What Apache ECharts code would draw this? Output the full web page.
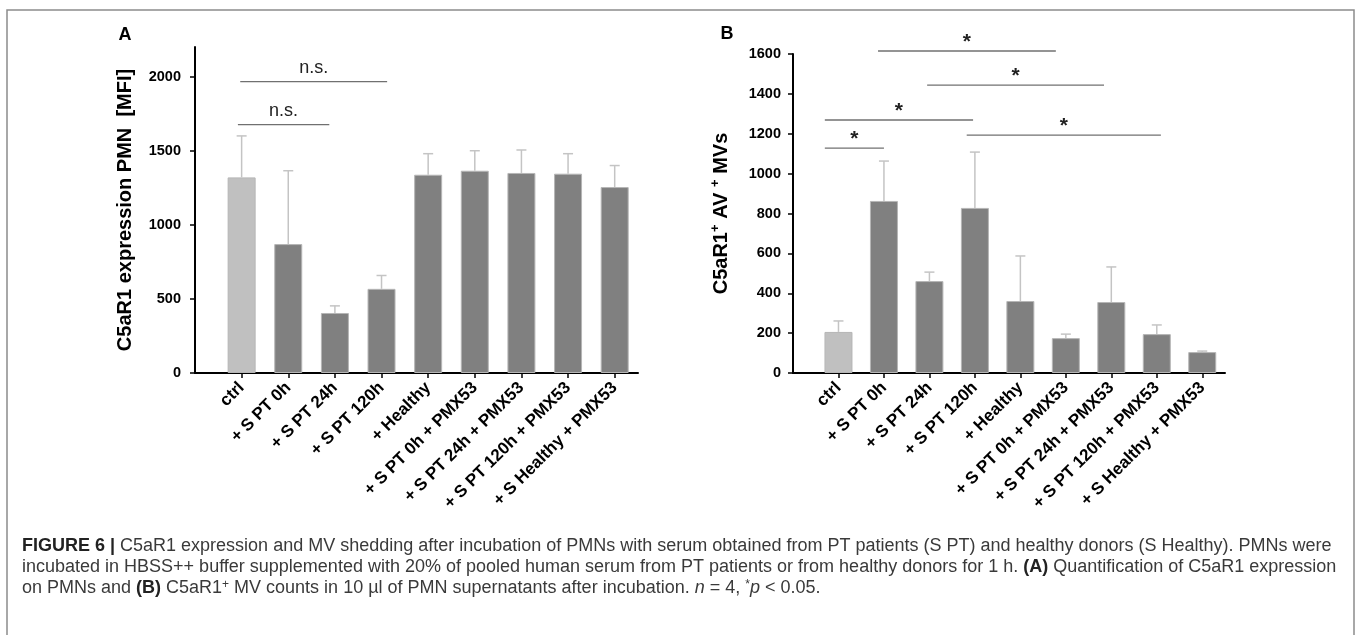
<!DOCTYPE html>
<html>
<head>
<meta charset="utf-8">
<title>Figure 6</title>
<script src="https://cdn.jsdelivr.net/npm/echarts@6/dist/echarts.min.js"></script>
<style>
  html, body { margin: 0; padding: 0; background: #fff; }
  #chart { width: 1357px; height: 635px; }
</style>
</head>
<body>
<div id="chart"></div>
<script>
// --- data ---
const categories = ['ctrl', '+ S PT 0h', '+ S PT 24h', '+ S PT 120h', '+ Healthy',
  '+ S PT 0h + PMX53', '+ S PT 24h + PMX53', '+ S PT 120h + PMX53', '+ S Healthy + PMX53'];

// panel A: C5aR1 expression (MFI), mean and SD
const meanA = [1320, 870, 405, 568, 1338, 1365, 1350, 1345, 1255];
const sdA = [280, 495, 48, 90, 142, 135, 155, 135, 145];

// panel B: C5aR1+ AV+ MVs, mean and SD
const meanB = [206, 863, 461, 828, 361, 175, 356, 195, 105];
const sdB = [55, 200, 45, 280, 226, 20, 176, 46, 5];

// significance brackets: [from x, to x, y value, text]  (x: ctrl = 1)
const sigA = [[0.92, 2.88, 1676, 'n.s.'], [0.97, 4.12, 1966, 'n.s.']];
const sigB = [[0.70, 2.00, 1128, '*'], [0.70, 3.96, 1269, '*'], [3.82, 8.09, 1193, '*'],
  [1.87, 5.78, 1615, '*'], [2.95, 6.84, 1444, '*']];

const ticksA = [0, 500, 1000, 1500, 2000];
const ticksB = [0, 200, 400, 600, 800, 1000, 1200, 1400, 1600];

const xPos = categories.map((c, i) => i + 1);

const chart = echarts.init(document.getElementById('chart'));

const BOLD = 'Liberation Sans';
const LIGHT = '#c0c0c0', DARK = '#808080';

function xAxisCfg(gridIndex) {
  return {
    type: 'value', gridIndex, min: 0, max: 9.5, interval: 1,
    axisLine: { show: true, lineStyle: { color: '#000', width: 2 } },
    axisTick: { show: true, length: 5, customValues: xPos, lineStyle: { color: '#000', width: 1.5 } },
    axisLabel: {
      customValues: xPos, rotate: 45, margin: 12,
      fontFamily: BOLD, fontWeight: 'bold', fontSize: 17, color: '#000',
      formatter: v => categories[v - 1] || ''
    },
    splitLine: { show: false }
  };
}

function yAxisCfg(gridIndex, max, interval, ticks, name, rich, margin) {
  return {
    type: 'value', gridIndex, min: 0, max, interval,
    name, nameLocation: 'middle', nameGap: 60, nameMoveOverlap: false,
    nameTextStyle: Object.assign({ fontFamily: BOLD, fontWeight: 'bold', fontSize: 20, color: '#000' }, rich ? { rich } : {}),
    axisLine: { show: true, lineStyle: { color: '#000', width: 2 } },
    axisTick: { show: true, length: 5, customValues: ticks, lineStyle: { color: '#000', width: 1.5 } },
    axisLabel: { customValues: ticks, margin, fontFamily: BOLD, fontWeight: 'bold', fontSize: 14.5, color: '#000',
      formatter: v => String(v) },
    splitLine: { show: false }
  };
}

function barSeries(idx, means) {
  return {
    type: 'bar', xAxisIndex: idx, yAxisIndex: idx, barWidth: 28,
    data: means.map((v, i) => ({ value: [i + 1, v], itemStyle: { color: i === 0 ? LIGHT : DARK } })),
    itemStyle: { borderColor: '#b6b6b6', borderWidth: 1 },
    silent: true, z: 2
  };
}

function errSeries(idx, means, sds) {
  return {
    type: 'custom', xAxisIndex: idx, yAxisIndex: idx, silent: true, z: 3,
    data: means.map((v, i) => [i + 1, v, v + sds[i]]),
    renderItem(params, api) {
      const x = api.value(0);
      const lo = api.coord([x, api.value(1)]);
      const hi = api.coord([x, api.value(2)]);
      const st = { stroke: '#c4c4c4', lineWidth: 1.5 };
      return { type: 'group', children: [
        { type: 'line', shape: { x1: lo[0], y1: lo[1], x2: hi[0], y2: hi[1] }, style: st },
        { type: 'line', shape: { x1: hi[0] - 5, y1: hi[1], x2: hi[0] + 5, y2: hi[1] }, style: st }
      ] };
    }
  };
}

function sigSeries(idx, sig, font, lift) {
  return {
    type: 'custom', xAxisIndex: idx, yAxisIndex: idx, silent: true, z: 4, clip: false,
    data: sig.map(s => s.slice(0, 3)),
    renderItem(params, api) {
      const a = api.coord([api.value(0), api.value(2)]);
      const b = api.coord([api.value(1), api.value(2)]);
      const txt = sig[params.dataIndex][3];
      return { type: 'group', children: [
        { type: 'line', shape: { x1: a[0], y1: a[1], x2: b[0], y2: a[1] }, style: { stroke: '#707070', lineWidth: 1.3 } },
        { type: 'text', x: (a[0] + b[0]) / 2, y: a[1] - lift,
          style: { text: txt, align: 'center', verticalAlign: 'middle', font: font, fill: '#222' } }
      ] };
    }
  };
}

const capFont = '18px "Liberation Sans"';
const capRich = {
  b: { fontWeight: 'bold', fontFamily: 'Liberation Sans', fontSize: 18, fill: '#222' },
  i: { fontStyle: 'italic', fontFamily: 'Liberation Sans', fontSize: 18, fill: '#3a3a3a' },
  s: { fontSize: 12, fontFamily: 'Liberation Sans', verticalAlign: 'top', fill: '#3a3a3a' }
};
const captionLines = [
  '{b|FIGURE 6 |} C5aR1 expression and MV shedding after incubation of PMNs with serum obtained from PT patients (S PT) and healthy donors (S Healthy). PMNs were',
  'incubated in HBSS++ buffer supplemented with 20% of pooled human serum from PT patients or from healthy donors for 1 h. {b|(A)} Quantification of C5aR1 expression',
  'on PMNs and {b|(B)} C5aR1{s|+} MV counts in 10 µl of PMN supernatants after incubation. {i|n} = 4, {s|*}{i|p} < 0.05.'
];

chart.setOption({
  animation: false,
  grid: [
    { left: 195, top: 47, width: 443, height: 326, outerBoundsMode: 'none' },
    { left: 793, top: 54, width: 432, height: 319, outerBoundsMode: 'none' }
  ],
  xAxis: [xAxisCfg(0), xAxisCfg(1)],
  yAxis: [
    yAxisCfg(0, 2200, 500, ticksA, 'C5aR1 expression PMN  [MFI]', null, 14),
    yAxisCfg(1, 1600, 200, ticksB, '{b|C5aR1}{s|+}{b| AV }{s|+}{b| MVs}', {
      b: { fontFamily: BOLD, fontWeight: 'bold', fontSize: 20, color: '#000', lineHeight: 24 },
      s: { fontFamily: BOLD, fontWeight: 'bold', fontSize: 13, color: '#000', lineHeight: 24, verticalAlign: 'top' }
    }, 12)
  ],
  series: [
    barSeries(0, meanA), errSeries(0, meanA, sdA), sigSeries(0, sigA, '18px "Liberation Sans"', 14),
    barSeries(1, meanB), errSeries(1, meanB, sdB), sigSeries(1, sigB, 'bold 21px "Liberation Sans"', 9)
  ],
  graphic: [
    { type: 'rect', shape: { x: 7, y: 10, width: 1347, height: 700 }, style: { fill: 'none', stroke: '#8c8c8c', lineWidth: 1.5 }, silent: true },
    { type: 'text', x: 125, y: 35, style: { text: 'A', font: 'bold 18px "Liberation Sans"', fill: '#000', align: 'center', verticalAlign: 'middle' } },
    { type: 'text', x: 727, y: 34, style: { text: 'B', font: 'bold 18px "Liberation Sans"', fill: '#000', align: 'center', verticalAlign: 'middle' } }
  ].concat(captionLines.map((t, k) => ({
    type: 'text', x: 22, y: 546 + k * 21,
    style: { text: t, font: capFont, fill: '#3a3a3a', align: 'left', verticalAlign: 'middle', rich: capRich }
  })))
});
</script>
</body>
</html>
